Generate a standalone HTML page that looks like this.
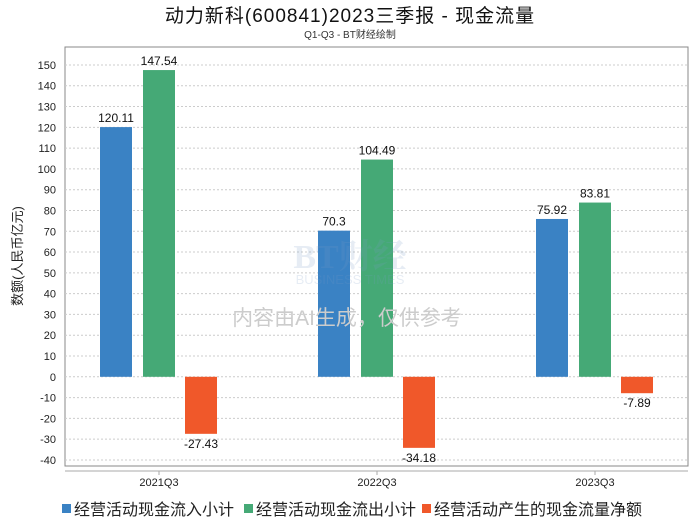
<!DOCTYPE html>
<html><head><meta charset="utf-8"><style>
body{margin:0;background:#fff;width:700px;height:524px;overflow:hidden;font-family:"Liberation Sans","Noto Sans CJK SC",sans-serif}
</style></head><body>
<svg width="700" height="524" style="font-family:'Liberation Sans','Noto Sans CJK SC',sans-serif">
<text x="350" y="22" text-anchor="middle" font-size="19" letter-spacing="1" fill="#111">动力新科(600841)2023三季报 - 现金流量</text>
<text x="350" y="38" text-anchor="middle" font-size="10" fill="#333">Q1-Q3 - BT财经绘制</text>
<rect x="65" y="47" width="623" height="419" fill="none" stroke="#888"/>
<g id="grid"></g><g id="bars"></g>
<g opacity="0.18">
<text x="350" y="268" text-anchor="middle" font-size="34" font-weight="bold" fill="#7a9cc6" font-family="'Liberation Serif','Noto Serif CJK SC',serif">BT财经</text>
<text x="350" y="284" text-anchor="middle" font-size="13" fill="#7a9cc6">BUSINESS TIMES</text>
</g>
<text x="347" y="325" text-anchor="middle" font-size="21" fill="#ccc">内容由AI生成，仅供参考</text>
<line x1="65" y1="471" x2="688" y2="471" stroke="#aaa"/>
<g id="xl"></g>
<text transform="translate(22,256) rotate(-90)" text-anchor="middle" font-size="13" fill="#222">数额(人民币亿元)</text>
<g id="legend"></g>
</svg>
<script>
const categories=["2021Q3","2022Q3","2023Q3"];
const inflow=[120.11,70.3,75.92];
const outflow=[147.54,104.49,83.81];
const net=[-27.43,-34.18,-7.89];
const yTicks=[150,140,130,120,110,100,90,80,70,60,50,40,30,20,10,0,-10,-20,-30,-40];
const seriesNames=["经营活动现金流入小计","经营活动现金流出小计","经营活动产生的现金流量净额"];
const colors=["#3a82c4","#45a976","#f0582a"];
const NS="http://www.w3.org/2000/svg";
function y(v){return 376.8-v*2.079;}
function x(i){return 159+i*218;}
function mk(t,a,p,txt){const e=document.createElementNS(NS,t);for(const k in a)e.setAttribute(k,a[k]);if(txt!=null)e.textContent=txt;p.appendChild(e);return e;}
const grid=document.getElementById('grid');
yTicks.forEach(v=>{
 const l=mk('line',{x1:65,x2:688,y1:y(v),y2:y(v),stroke:'#ccc','stroke-dasharray':'2,2'},grid);
 
 
 const t=mk('text',{x:56,y:y(v)+4,'text-anchor':'end','font-size':11,fill:'#222'},grid,String(v));
 
 
});
const bars=document.getElementById('bars');
const series=[inflow,outflow,net];
const offs=[-43,0,42];
categories.forEach((c,i)=>{
 series.forEach((s,j)=>{
  const v=s[i];const top=Math.min(y(v),y(0));const h=Math.abs(y(v)-y(0));
  const cx=x(i)+offs[j];
  const r=mk('rect',{x:cx-16,y:top,width:32,height:h,fill:colors[j]},bars);
  
  
  const ly=v>=0?y(v)-5:y(v)+14;
  const t=mk('text',{x:cx,y:ly,'text-anchor':'middle','font-size':12,fill:'#111'},bars,String(v));
  
  
 });
 const xl=document.getElementById('xl');
 const tk=mk('line',{x1:x(i),x2:x(i),y1:471,y2:475,stroke:'#aaa'},xl);
 
 
 const t=mk('text',{x:x(i),y:486,'text-anchor':'middle','font-size':11,fill:'#222'},xl,c);
 
 
});
const lg=document.getElementById('legend');
const lx=[62,244,422];
seriesNames.forEach((n,j)=>{
 const r=mk('rect',{x:lx[j],y:504,width:9,height:9,fill:colors[j]},lg);
 
 
 const t=mk('text',{x:lx[j]+12,y:515,'font-size':16,fill:'#222'},lg,n);
 
 
});
</script>
</body></html>
